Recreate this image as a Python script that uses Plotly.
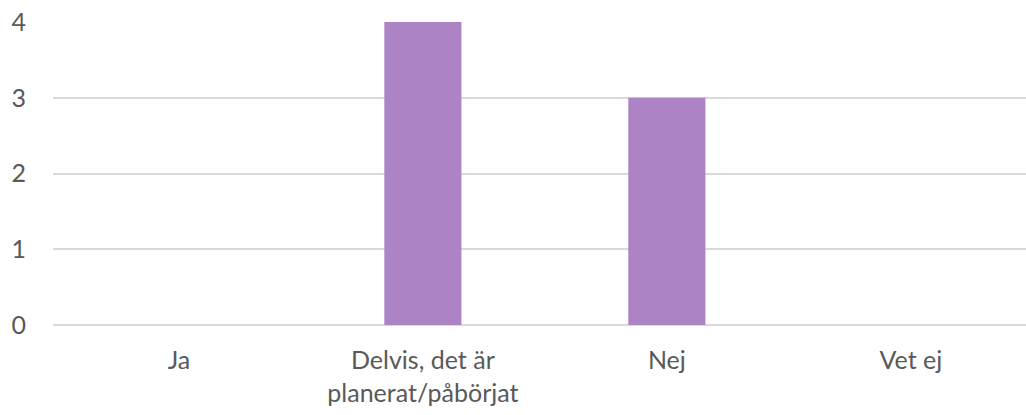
import plotly.graph_objects as go

categories = ["Ja", "Delvis, det är<br>planerat/påbörjat", "Nej", "Vet ej"]
values = [0, 4, 3, 0]
y_ticks = [0, 1, 2, 3, 4]

fig = go.Figure()
fig.add_trace(go.Bar(x=categories, y=values, marker_color="#AC84C6",
                     marker_line_width=0))

fig.update_layout(
    width=1026, height=415,
    margin=dict(l=53, r=0, t=22, b=90),
    paper_bgcolor="white", plot_bgcolor="white",
    bargap=0.684,
    showlegend=False,
    font=dict(family="Lato, Open Sans, sans-serif", size=25, color="#595959"),
)
# the last category band runs a little past the right edge in the original
fig.update_xaxes(range=[-0.516, 3.472], showline=False, ticks="", ticklabelstandoff=18,
                 automargin=False)
fig.update_yaxes(range=[0, 4], tickvals=y_ticks, showgrid=True, gridcolor="#D9D9D9",
                 gridwidth=1.5, zeroline=True, zerolinecolor="#D9D9D9", zerolinewidth=1.5,
                 ticklabelstandoff=26, automargin=False)

post = ("document.body.style.margin='0';document.body.style.overflow='hidden';"
        "var gd=document.getElementById('{plot_id}');"
        "Plotly.relayout(gd,{width:1026,height:415});")

fig.write_html("out.html",
               config={"responsive": False, "displayModeBar": False},
               post_script=post)
